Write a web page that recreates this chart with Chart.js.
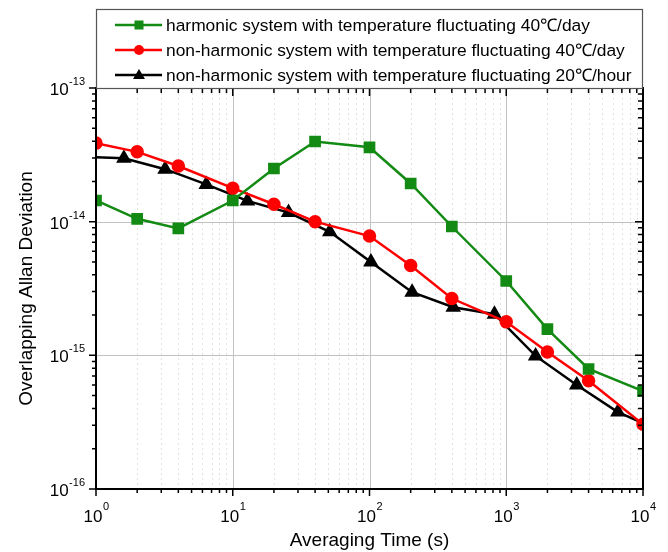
<!DOCTYPE html>
<html>
<head>
<meta charset="utf-8">
<script src="https://cdn.jsdelivr.net/npm/chart.js@4/dist/chart.umd.min.js"></script>
<style>
  html, body { margin: 0; padding: 0; background: #fff; }
  #wrap { position: relative; width: 668px; height: 552px; }
</style>
</head>
<body>
<div id="wrap"><canvas id="adev"></canvas></div>
<script>
// Averaging times (s)
const tauHarmonic = [1, 2, 4, 10, 20, 40, 100, 200, 400, 1000, 2000, 4000, 10000];
const tauNonHarmonic = [1, 2, 4, 10, 20, 40, 100, 200, 400, 1000, 2000, 4000, 10000];
const tauHourly = [0.8, 1.6, 3.2, 6.4, 12.8, 25.6, 51.2, 102.4, 204.8, 409.6, 819.2, 1638.4, 3276.8, 6553.6, 13107.2];

// Overlapping Allan deviation values
const adevHarmonicDay = [1.44e-14, 1.05e-14, 8.9e-15, 1.44e-14, 2.5e-14, 3.98e-14, 3.6e-14, 1.93e-14, 9.2e-15, 3.6e-15, 1.57e-15, 7.9e-16, 5.4e-16];
const adevNonHarmonicDay = [3.87e-14, 3.33e-14, 2.61e-14, 1.78e-14, 1.35e-14, 1.0e-14, 7.8e-15, 4.7e-15, 2.66e-15, 1.78e-15, 1.06e-15, 6.45e-16, 3.05e-16];
const adevNonHarmonicHour = [3.06e-14, 2.98e-14, 2.47e-14, 1.9e-14, 1.43e-14, 1.17e-14, 8.4e-15, 5.0e-15, 2.97e-15, 2.29e-15, 2.03e-15, 9.9e-16, 6.0e-16, 3.76e-16, 2.75e-16];

const seriesLabels = [
    'harmonic system with temperature fluctuating 40\u2103/day',
    'non-harmonic system with temperature fluctuating 40\u2103/day',
    'non-harmonic system with temperature fluctuating 20\u2103/hour'
];
const seriesColors = ['#138a13', '#ff0000', '#000000'];
const seriesMarkers = ['rect', 'circle', 'triangle'];

const xDecades = [0, 1, 2, 3, 4];      // 10^0 .. 10^4
const yDecades = [-16, -15, -14, -13]; // 10^-16 .. 10^-13

const toPoints = (xs, ys) => xs.map((x, i) => ({ x: x, y: ys[i] }));

const FONT = '"Liberation Sans", Arial, sans-serif';

// Origin-style frame: grids, inward/outward ticks, power-of-ten labels, boxed legend
const originFrame = {
    id: 'originFrame',
    beforeDatasetsDraw(chart) {
        const ctx = chart.ctx;
        const xs = chart.scales.x, ys = chart.scales.y;
        const a = chart.chartArea;
        ctx.save();
        // minor x grid (dotted)
        ctx.strokeStyle = '#e2e2e2';
        ctx.lineWidth = 1;
        ctx.setLineDash([2, 3]);
        xDecades.slice(0, -1).forEach(e => {
            for (let m = 2; m <= 9; m++) {
                const px = Math.round(xs.getPixelForValue(m * Math.pow(10, e))) + 0.5;
                ctx.beginPath(); ctx.moveTo(px, a.top); ctx.lineTo(px, a.bottom); ctx.stroke();
            }
        });
        // major grid (solid)
        ctx.setLineDash([]);
        ctx.strokeStyle = '#c2c2c2';
        xDecades.slice(1, -1).forEach(e => {
            const px = Math.round(xs.getPixelForValue(Math.pow(10, e))) + 0.5;
            ctx.beginPath(); ctx.moveTo(px, a.top); ctx.lineTo(px, a.bottom); ctx.stroke();
        });
        yDecades.slice(1, -1).forEach(e => {
            const py = Math.round(ys.getPixelForValue(Math.pow(10, e))) + 0.5;
            ctx.beginPath(); ctx.moveTo(a.left, py); ctx.lineTo(a.right, py); ctx.stroke();
        });
        ctx.restore();
    },
    afterDraw(chart) {
        const ctx = chart.ctx;
        const xs = chart.scales.x, ys = chart.scales.y;
        const a = chart.chartArea;
        ctx.save();
        ctx.strokeStyle = '#000';
        ctx.lineWidth = 2;
        ctx.strokeRect(a.left, a.top, a.right - a.left, a.bottom - a.top);

        // ticks
        ctx.lineWidth = 1.5;
        xDecades.forEach((e, k) => {
            const upto = k < xDecades.length - 1 ? 9 : 1;
            for (let m = 1; m <= upto; m++) {
                const px = xs.getPixelForValue(m * Math.pow(10, e));
                const len = m === 1 ? 7 : 4;
                ctx.beginPath();
                ctx.moveTo(px, a.bottom); ctx.lineTo(px, a.bottom + len);     // bottom: outward
                ctx.moveTo(px, a.top); ctx.lineTo(px, a.top + len + 1);       // top: inward
                ctx.stroke();
            }
        });
        yDecades.forEach((e, k) => {
            const upto = k < yDecades.length - 1 ? 9 : 1;
            for (let m = 1; m <= upto; m++) {
                const py = ys.getPixelForValue(m * Math.pow(10, e));
                const len = m === 1 ? 7 : 4;
                ctx.beginPath();
                ctx.moveTo(a.left, py); ctx.lineTo(a.left - len, py);         // left: outward
                ctx.moveTo(a.right, py); ctx.lineTo(a.right - len - 1, py);   // right: inward
                ctx.stroke();
            }
        });

        // tick labels 10^n
        ctx.fillStyle = '#000';
        const base = '17px ' + FONT, sup = '11px ' + FONT;
        xDecades.forEach(e => {
            const px = xs.getPixelForValue(Math.pow(10, e));
            ctx.font = base; const wb = ctx.measureText('10').width;
            ctx.font = sup; const we = ctx.measureText(String(e)).width;
            const x0 = px - (wb + we) / 2;
            ctx.textBaseline = 'alphabetic'; ctx.textAlign = 'left';
            ctx.font = base; ctx.fillText('10', x0, a.bottom + 33);
            ctx.font = sup; ctx.fillText(String(e), x0 + wb + 0.5, a.bottom + 21);
        });
        yDecades.forEach(e => {
            const py = ys.getPixelForValue(Math.pow(10, e));
            ctx.font = sup; const we = ctx.measureText(String(e)).width;
            const xr = a.left - 11;
            ctx.textBaseline = 'alphabetic'; ctx.textAlign = 'right';
            ctx.font = sup; ctx.fillText(String(e), xr, py - 3);
            ctx.font = base; ctx.fillText('10', xr - we - 0.5, py + 7);
        });

        // axis titles
        ctx.font = '19px ' + FONT;
        ctx.textAlign = 'center';
        ctx.textBaseline = 'middle';
        ctx.fillText('Averaging Time (s)', (a.left + a.right) / 2, 541);
        ctx.save();
        ctx.translate(27, (a.top + a.bottom) / 2);
        ctx.rotate(-Math.PI / 2);
        ctx.fillText('Overlapping Allan Deviation', 0, 0);
        ctx.restore();

        // legend box
        const top = 9, bottom = a.top;
        ctx.fillStyle = '#fff';
        ctx.fillRect(a.left, top, a.right - a.left, bottom - top);
        ctx.strokeStyle = '#555';
        ctx.lineWidth = 1.2;
        ctx.strokeRect(a.left + 0.5, top + 0.5, a.right - a.left - 1, bottom - top);
        ctx.font = '17.4px ' + FONT;
        ctx.textAlign = 'left';
        ctx.textBaseline = 'middle';
        seriesLabels.forEach((label, i) => {
            const cy = 25 + i * 25;
            const c = seriesColors[i];
            ctx.strokeStyle = c; ctx.fillStyle = c;
            ctx.lineWidth = 2.5;
            ctx.beginPath(); ctx.moveTo(115, cy); ctx.lineTo(162, cy); ctx.stroke();
            ctx.beginPath();
            if (seriesMarkers[i] === 'rect') {
                ctx.fillRect(134.5, cy - 4.5, 9, 9);
            } else if (seriesMarkers[i] === 'circle') {
                ctx.arc(139, cy, 5, 0, Math.PI * 2); ctx.fill();
            } else {
                ctx.moveTo(139, cy - 6); ctx.lineTo(145, cy + 4); ctx.lineTo(133, cy + 4); ctx.closePath(); ctx.fill();
            }
            ctx.fillStyle = '#000';
            ctx.fillText(label, 166, cy + 1);
        });
        ctx.restore();
    }
};

new Chart(document.getElementById('adev'), {
    type: 'line',
    data: {
        datasets: [
            {
                label: seriesLabels[0],
                data: toPoints(tauHarmonic, adevHarmonicDay),
                borderColor: seriesColors[0],
                backgroundColor: seriesColors[0],
                pointStyle: seriesMarkers[0],
                pointRadius: 6.5,
                borderWidth: 2.5
            },
            {
                label: seriesLabels[1],
                data: toPoints(tauNonHarmonic, adevNonHarmonicDay),
                borderColor: seriesColors[1],
                backgroundColor: seriesColors[1],
                pointStyle: seriesMarkers[1],
                pointRadius: 5.5,
                borderWidth: 2.5
            },
            {
                label: seriesLabels[2],
                data: toPoints(tauHourly, adevNonHarmonicHour),
                borderColor: seriesColors[2],
                backgroundColor: seriesColors[2],
                pointStyle: seriesMarkers[2],
                pointRadius: 6.5,
                borderWidth: 2.5
            }
        ]
    },
    options: {
        responsive: true,
        maintainAspectRatio: false,
        animation: false,
        layout: {
            padding: { left: 96, right: 25, top: 88, bottom: 63 }
        },
        plugins: {
            legend: { display: false },
            tooltip: { enabled: false }
        },
        elements: {
            line: { tension: 0 },
            point: { borderWidth: 0 }
        },
        scales: {
            x: {
                type: 'logarithmic',
                min: 1,
                max: 10000,
                display: false
            },
            y: {
                type: 'logarithmic',
                min: 1e-16,
                max: 1e-13,
                display: false
            }
        }
    },
    plugins: [originFrame]
});
</script>
</body>
</html>
